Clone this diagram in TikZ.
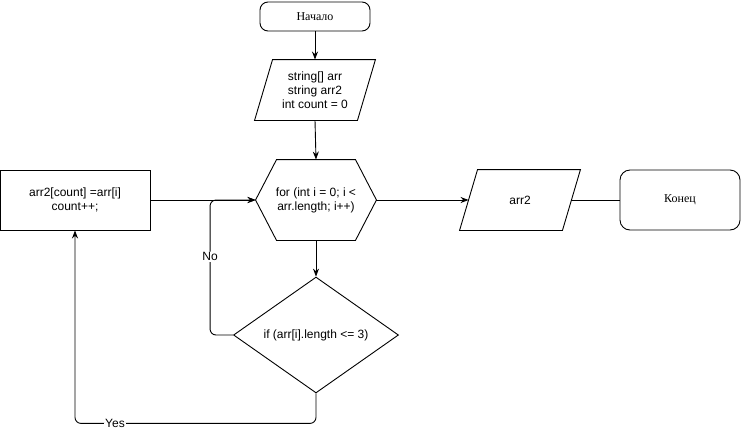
\documentclass[tikz,border=0pt]{standalone}
\usepackage{fontspec}
\setmainfont{Liberation Sans}
\newfontfamily\rusfont{Liberation Serif}
\usetikzlibrary{arrows.meta,shapes.geometric}

\begin{document}
\begin{tikzpicture}[x=1pt,y=-1pt,line width=0.9pt,
    >={Stealth[length=8pt,width=6pt]},
    every node/.style={font=\fontsize{12}{14}\selectfont, inner sep=0pt, align=center},
    term/.style={draw, rounded corners=8pt, minimum width=110pt, minimum height=29pt},
    box/.style={minimum width=120pt, minimum height=60pt}]

    \useasboundingbox (0,0) rectangle (741,429);

    \node[term, font=\rusfont\fontsize{12}{14}\selectfont] (start) at (315,16.5) {Начало};

    \node[box] (decl) at (315,90) {string[] arr\\ string arr2\\ int count = 0};
    \draw ([xshift=18pt]decl.north west) -- (decl.north east) -- ([xshift=-18pt]decl.south east) -- (decl.south west) -- cycle;

    \node[box, minimum height=80pt] (loop) at (316,200) {for (int i = 0; i <\\ arr.length; i++)};
    \draw (loop.west) -- ([xshift=21pt]loop.north west) -- ([xshift=-21pt]loop.north east) -- (loop.east)
        -- ([xshift=-21pt]loop.south east) -- ([xshift=21pt]loop.south west) -- cycle;

    \node[diamond, draw, minimum width=165pt, minimum height=110pt] (cond) at (316,335) {if (arr[i].length <= 3)};

    \node[draw, minimum width=150pt, minimum height=60pt] (act) at (75,200) {arr2[count] =arr[i]\\ count++;};

    \node[box] (out) at (520,200) {arr2};
    \draw ([xshift=18pt]out.north west) -- (out.north east) -- ([xshift=-18pt]out.south east) -- (out.south west) -- cycle;

    \node[term, minimum width=120pt, minimum height=60pt, rounded corners=10pt, font=\rusfont\fontsize{12}{14}\selectfont] (end) at (680,200) {Конец};

    \draw[->] (start.south) -- (decl.north);
    \draw[->] (decl.south) -- (loop.north);
    \draw[->] (loop.south) -- (cond.north);
    \draw[->] (act.east) -- (loop.west);
    \draw[->, rounded corners=6pt] (cond.west) -- ++(-23,0) |- node[pos=0.29, fill=white, inner sep=1pt] {No} (loop.west);
    \draw[->, rounded corners=6pt] (cond.south) -- ++(0,30) -| node[pos=0.417, fill=white, inner sep=1pt] {Yes} (act.south);
    \draw[->] (loop.east) -- ([xshift=9pt]out.west);
    \draw ([xshift=-9pt]out.east) -- (end.west);
\end{tikzpicture}
\end{document}
